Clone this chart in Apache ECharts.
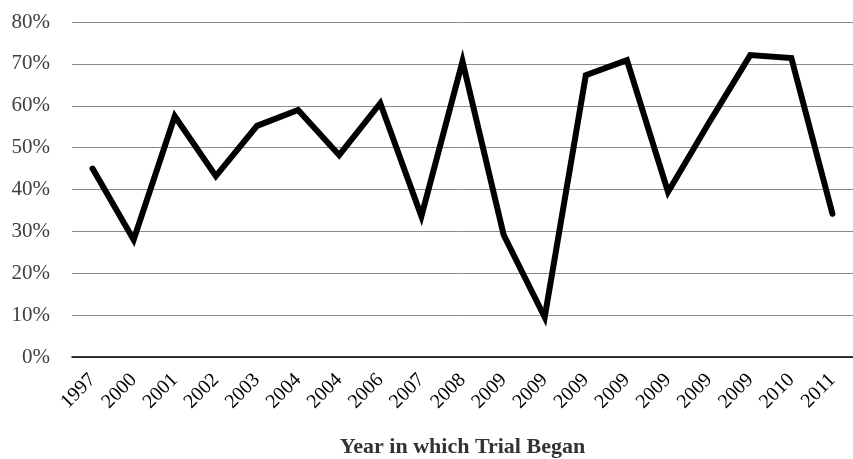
<!DOCTYPE html>
<html>
<head>
<meta charset="utf-8">
<script src="https://cdn.jsdelivr.net/npm/echarts@6/dist/echarts.min.js"></script>
<style>
  html, body { margin: 0; padding: 0; background: #fff; }
  #chart { width: 853px; height: 459px; }
</style>
</head>
<body>
<div id="chart"></div>
<script>
// 试验开始年份
const years = ['1997', '2000', '2001', '2002', '2003', '2004', '2004', '2006', '2007', '2008',
  '2009', '2009', '2009', '2009', '2009', '2009', '2009', '2010', '2011']
// 百分比值
const rates = [45, 28, 57.5, 43.2, 55.2, 59, 48.2, 60.6, 33.6, 70.6,
  29.2, 9.5, 67.3, 70.9, 39.4, 56, 72.1, 71.4, 34.2]
const yTicks = [0, 10, 20, 30, 40, 50, 60, 70, 80]

const serif = 'Liberation Serif, DejaVu Serif, serif'

let myChart = echarts.init(document.getElementById('chart'))
let option = {
  animation: false,
  grid: {
    left: 72,
    right: 0,
    top: 22,
    bottom: 102,
    outerBoundsMode: 'none',
    containLabel: false
  },
  xAxis: {
    type: 'category',
    data: years,
    boundaryGap: true,
    name: 'Year in which Trial Began',
    nameLocation: 'middle',
    nameGap: 79,
    nameTextStyle: {
      fontFamily: serif,
      fontSize: 22,
      fontWeight: 'bold',
      color: '#333'
    },
    axisLine: { lineStyle: { color: '#000', width: 1.5 } },
    axisTick: { show: false },
    axisLabel: {
      interval: 0,
      rotate: 45,
      margin: 20,
      fontFamily: serif,
      fontSize: 20,
      color: '#000'
    }
  },
  yAxis: {
    type: 'value',
    min: yTicks[0],
    max: yTicks[yTicks.length - 1],
    interval: 10,
    axisLine: { show: false },
    axisTick: { show: false },
    axisLabel: {
      margin: 22,
      fontFamily: serif,
      fontSize: 21,
      color: '#404040',
      formatter: v => v + '%'
    },
    splitLine: { lineStyle: { color: '#8a8a8a', width: 1 } }
  },
  series: [
    {
      type: 'line',
      data: rates,
      symbol: 'none',
      lineStyle: { color: '#000', width: 6, cap: 'round', join: 'miter' }
    }
  ]
}
myChart.setOption(option)
</script>
</body>
</html>
